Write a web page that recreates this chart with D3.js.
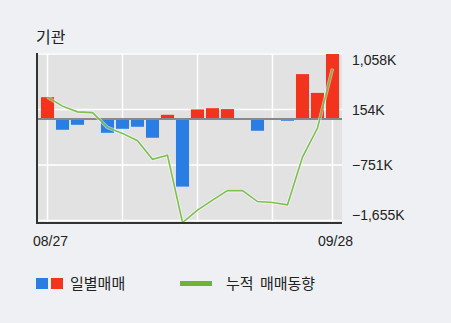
<!DOCTYPE html>
<html>
<head>
<meta charset="utf-8">
<script src="https://cdn.jsdelivr.net/npm/d3@7"></script>
<style>
  body { margin: 0; background: #eef0f4; }
  text { font-family: "Liberation Sans", Arial, sans-serif; fill: #222; }
  .kr { font-family: "Noto Sans CJK KR", sans-serif; }
</style>
</head>
<body>
<div id="chart"></div>
<script>
// daily net trading (K shares) and the cumulative line
const dates = ["08/27", "08/28", "08/29", "08/30", "08/31", "09/03", "09/04", "09/05", "09/06", "09/07",
               "09/10", "09/11", "09/12", "09/13", "09/14", "09/17", "09/18", "09/19", "09/27", "09/28"];
const daily = [354, -177, -96, 0, -226, -161, -128, -307, 67, -1103,
               155, 175, 160, 0, -193, 0, -30, 730, 424, 1058];
const cumulative = [354, 208, 115, 102, -138, -236, -356, -658, -593, -1688,
                    -1487, -1323, -1169, -1169, -1347, -1363, -1400, -621, -149, 820];
const tickValues = [1058, 154, -751, -1655];
const tickLabels = ["1,058K", "154K", "\u2212751K", "\u22121,655K"];

const W = 451, H = 323;
const plot = { left: 36, right: 342, top: 53, bottom: 223 };

const svg = d3.select("#chart").append("svg")
    .attr("width", W)
    .attr("height", H);

const x = d3.scaleBand()
    .domain(dates)
    .range([40, 340])
    .paddingInner(0.13)
    .paddingOuter(0.065);
const cx = d => x(d) + x.bandwidth() / 2;

const y = d3.scaleLinear()
    .domain([-1696, 1074])
    .range([plot.bottom, plot.top]);

// title
svg.append("text").attr("class", "kr")
    .attr("x", 36).attr("y", 43)
    .attr("font-size", 16)
    .text("기관");

// plot background
svg.append("rect")
    .attr("x", plot.left).attr("y", plot.top)
    .attr("width", plot.right - plot.left)
    .attr("height", plot.bottom - plot.top)
    .attr("fill", "#e2e2e2");

// grid
const gridIdx = [0, 5, 10, 15, 19];
svg.append("g").selectAll("line")
    .data(gridIdx)
    .join("line")
    .attr("x1", i => cx(dates[i])).attr("x2", i => cx(dates[i]))
    .attr("y1", plot.top).attr("y2", plot.bottom)
    .attr("stroke", "#fff").attr("stroke-width", 1.5);

svg.append("g").selectAll("line")
    .data(tickValues)
    .join("line")
    .attr("x1", plot.left).attr("x2", plot.right)
    .attr("y1", d => y(d)).attr("y2", d => y(d))
    .attr("stroke", "#fff").attr("stroke-width", 1.5);

// bars
svg.append("g").selectAll("rect")
    .data(daily.map((v, i) => ({ date: dates[i], v })))
    .join("rect")
    .attr("x", d => x(d.date))
    .attr("width", x.bandwidth())
    .attr("y", d => y(Math.max(0, d.v)))
    .attr("height", d => Math.abs(y(d.v) - y(0)))
    .attr("fill", d => d.v >= 0 ? "#f2341c" : "#2a7de3");

// zero line
svg.append("line")
    .attr("x1", plot.left).attr("x2", plot.right)
    .attr("y1", y(0)).attr("y2", y(0))
    .attr("stroke", "#888").attr("stroke-width", 2);

// cumulative line
const line = d3.line()
    .x((d, i) => cx(dates[i]))
    .y(d => y(d));

svg.append("path")
    .datum(cumulative)
    .attr("d", line)
    .attr("fill", "none")
    .attr("stroke", "#fff")
    .attr("stroke-opacity", 0.5)
    .attr("stroke-width", 3.5);

svg.append("path")
    .datum(cumulative)
    .attr("d", line)
    .attr("fill", "none")
    .attr("stroke", "#6ab634")
    .attr("stroke-opacity", 0.85)
    .attr("stroke-width", 1.6);

// axes lines
svg.append("line")
    .attr("x1", plot.left + 1).attr("x2", plot.left + 1)
    .attr("y1", plot.top).attr("y2", plot.bottom)
    .attr("stroke", "#333").attr("stroke-width", 2);
svg.append("line")
    .attr("x1", plot.left).attr("x2", plot.right)
    .attr("y1", plot.bottom).attr("y2", plot.bottom)
    .attr("stroke", "#333").attr("stroke-width", 2);

// right tick labels (clamped inside plot height)
svg.append("g").selectAll("text")
    .data(tickValues)
    .join("text")
    .attr("x", 352)
    .attr("y", d => Math.min(Math.max(y(d), plot.top + 7), plot.bottom - 8))
    .attr("dy", "0.36em")
    .attr("font-size", 14)
    .text((d, i) => tickLabels[i]);

// x labels: first and last date
svg.append("g").selectAll("text")
    .data([dates[0], dates[dates.length - 1]])
    .join("text")
    .attr("x", d => cx(d) + 3)
    .attr("y", 246)
    .attr("text-anchor", "middle")
    .attr("font-size", 14)
    .text(d => d);

// legend
const lg = svg.append("g");
lg.append("rect").attr("x", 36).attr("y", 278).attr("width", 12).attr("height", 11).attr("fill", "#2a7de3");
lg.append("rect").attr("x", 51).attr("y", 278).attr("width", 12).attr("height", 11).attr("fill", "#f2341c");
lg.append("text").attr("class", "kr").attr("x", 70).attr("y", 289).attr("font-size", 15).text("일별매매");
lg.append("line").attr("x1", 180).attr("x2", 212).attr("y1", 283.5).attr("y2", 283.5)
    .attr("stroke", "#6ab634").attr("stroke-width", 5);
lg.append("text").attr("class", "kr").attr("x", 226).attr("y", 289).attr("font-size", 15)
    .attr("word-spacing", 3).text("누적 매매동향");
</script>
</body>
</html>
